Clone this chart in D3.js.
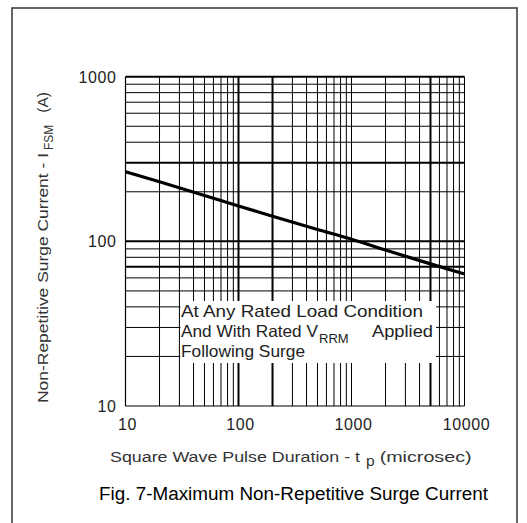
<!DOCTYPE html>
<html><head><meta charset="utf-8">
<script src="https://cdn.jsdelivr.net/npm/d3@7"></script>
<style>body{margin:0;background:#fff}svg{display:block}</style>
</head><body>
<svg id="c" width="527" height="523"></svg>
<script>
// Data
const pulseDuration = [10, 20, 50, 100, 200, 500, 1000, 2000, 5000, 10000];
const surgeCurrent  = [265, 230, 190, 164, 142, 118, 103, 88.5, 73, 63.4];
const xTickLabels = [10, 100, 1000, 10000];
const yTickLabels = [10, 100, 1000];
const xGrid = [20,30,40,50,60,70,80,90,100,200,300,400,500,600,700,800,900,1000,2000,3000,4000,5000,6000,7000,8000,9000,10000];
const yGrid = [20,30,40,50,60,70,80,90,100,200,300,400,500,600,700,800,900,1000];
const xBold = [100, 200, 5000];
const yBold = [70, 100, 300, 1000];
const noteLines = ["At Any Rated Load Condition", "And With Rated V", "Following Surge"];

const svg = d3.select("#c");
const x = d3.scaleLog().domain([10, 10000]).range([125.5, 464.5]);
const y = d3.scaleLog().domain([10, 1000]).range([406, 76.7]);
const font = "'Liberation Sans', Arial, sans-serif";

// outer frame
svg.append("rect").attr("x", 12).attr("y", 8).attr("width", 505).attr("height", 530)
  .attr("fill", "none").attr("stroke", "#333").attr("stroke-width", 1.5);

const g = svg.append("g");
// vertical grid
g.selectAll("line.vx").data(xGrid).join("line")
  .attr("x1", d => x(d)).attr("x2", d => x(d))
  .attr("y1", y(10)).attr("y2", y(1000))
  .attr("stroke", "#000").attr("stroke-width", d => xBold.includes(d) ? 2 : 1);
// horizontal grid
g.selectAll("line.hy").data(yGrid).join("line")
  .attr("x1", x(10)).attr("x2", x(10000))
  .attr("y1", d => y(d)).attr("y2", d => y(d))
  .attr("stroke", "#000").attr("stroke-width", d => yBold.includes(d) ? 2 : 1);
// left and bottom edges
g.append("line").attr("x1", x(10)).attr("x2", x(10)).attr("y1", y(10)).attr("y2", y(1000)).attr("stroke", "#000").attr("stroke-width", 1.2);
g.append("line").attr("x1", x(10)).attr("x2", x(10000)).attr("y1", y(10)).attr("y2", y(10)).attr("stroke", "#000").attr("stroke-width", 1.2);

// white note box
svg.append("rect").attr("x", x(30) + 1).attr("y", 301).attr("width", 436 - x(30) - 1).attr("height", 62)
  .attr("fill", "#fff");

// curve
const line = d3.line().x((d, i) => x(pulseDuration[i])).y(d => y(d)).curve(d3.curveMonotoneX);
svg.append("path").attr("d", line(surgeCurrent)).attr("fill", "none")
  .attr("stroke", "#000").attr("stroke-width", 3.2);

// note text
const note = svg.append("g").attr("font-family", font).attr("fill", "#222").attr("font-size", 16.5);
note.append("text").attr("x", 181).attr("y", 317).attr("textLength", 242).attr("lengthAdjust", "spacingAndGlyphs").text(noteLines[0]);
const t2 = note.append("text").attr("x", 181).attr("y", 337);
t2.append("tspan").attr("textLength", 137).attr("lengthAdjust", "spacingAndGlyphs").text(noteLines[1]);
t2.append("tspan").attr("font-size", 13).attr("dy", 6).attr("dx", 1).text("RRM");
note.append("text").attr("x", 372).attr("y", 337).attr("textLength", 61).attr("lengthAdjust", "spacingAndGlyphs").text("Applied");
note.append("text").attr("x", 181).attr("y", 357).attr("textLength", 124).attr("lengthAdjust", "spacingAndGlyphs").text(noteLines[2]);

// tick labels
const tl = svg.append("g").attr("font-family", font).attr("fill", "#222").attr("font-size", 16);
tl.selectAll("text.xl").data(xTickLabels).join("text")
  .attr("x", d => x(d) + 2).attr("y", 430).attr("text-anchor", "middle")
  .attr("letter-spacing", 0.6).text(d => d);
tl.selectAll("text.yl").data(yTickLabels).join("text")
  .attr("x", 116.5).attr("y", d => y(d) + 6).attr("text-anchor", "end")
  .attr("letter-spacing", 0.6).text(d => d);

// x title
const xt = svg.append("text").attr("font-family", font).attr("fill", "#333").attr("font-size", 15.5)
  .attr("x", 110).attr("y", 462);
xt.append("tspan").attr("textLength", 250).attr("lengthAdjust", "spacingAndGlyphs").text("Square Wave Pulse Duration - t");
xt.append("tspan").attr("dy", 4).attr("dx", 6).text("p");
xt.append("tspan").attr("dy", -4).attr("dx", 5).attr("textLength", 92).attr("lengthAdjust", "spacingAndGlyphs").text("(microsec)");

// y title
const yt = svg.append("text").attr("font-family", font).attr("fill", "#333").attr("font-size", 15.5)
  .attr("transform", "translate(48,403) rotate(-90)");
yt.append("tspan").attr("textLength", 250).attr("lengthAdjust", "spacingAndGlyphs").text("Non-Repetitive Surge Current - I");
yt.append("tspan").attr("font-size", 12).attr("dy", 5).attr("dx", 3).text("FSM");
yt.append("tspan").attr("dy", -5).attr("dx", 12).text("(A)");

// caption
svg.append("text").attr("font-family", font).attr("fill", "#000").attr("font-size", 18)
  .attr("x", 99).attr("y", 500).attr("textLength", 389).attr("lengthAdjust", "spacingAndGlyphs")
  .text("Fig. 7-Maximum Non-Repetitive Surge Current");
</script>
</body></html>
